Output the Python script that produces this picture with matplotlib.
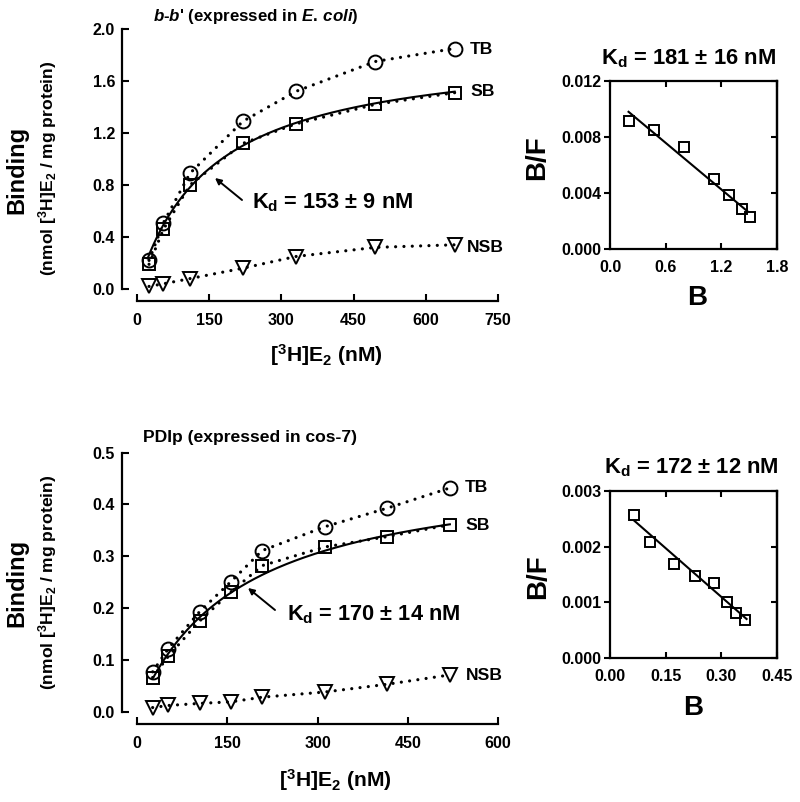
import numpy as np
import matplotlib
matplotlib.use("Agg")
import matplotlib.pyplot as plt

plt.rcParams['font.family'] = ['Liberation Sans', 'DejaVu Sans']
plt.rcParams['font.weight'] = 'bold'
plt.rcParams['mathtext.fontset'] = 'custom'
plt.rcParams['mathtext.rm'] = 'Liberation Sans:bold'
plt.rcParams['mathtext.bf'] = 'Liberation Sans:bold'
plt.rcParams['mathtext.it'] = 'Liberation Sans:italic:bold'
plt.rcParams['mathtext.default'] = 'rm'

# ---------------- data ----------------
# top saturation (b-b')
top_x = [25, 55, 110, 220, 330, 495, 660]
top_tb = [0.22, 0.51, 0.89, 1.29, 1.52, 1.75, 1.85]
top_sb = [0.19, 0.46, 0.80, 1.12, 1.27, 1.42, 1.51]
top_nsb = [0.02, 0.04, 0.08, 0.16, 0.25, 0.32, 0.34]
top_kd, top_bmax = 153, 1.87
top_fit_range = (22, 660)

# bottom saturation (PDIp)
bot_x = [26, 52, 104, 156, 208, 312, 416, 520]
bot_tb = [0.077, 0.122, 0.193, 0.251, 0.311, 0.357, 0.393, 0.432]
bot_sb = [0.066, 0.107, 0.175, 0.231, 0.282, 0.318, 0.338, 0.361]
bot_nsb = [0.008, 0.012, 0.016, 0.019, 0.028, 0.038, 0.053, 0.071]
bot_kd, bot_bmax = 170, 0.48
bot_fit_range = (28, 520)

# Scatchard top
sc1_b = [0.20, 0.47, 0.80, 1.12, 1.28, 1.42, 1.51]
sc1_bf = [0.0091, 0.0085, 0.0073, 0.0050, 0.0039, 0.0029, 0.0023]
sc1_kd, sc1_icpt = 181, 0.01089
sc1_fit_range = (0.20, 1.48)

# Scatchard bottom
sc2_b = [0.066, 0.108, 0.173, 0.230, 0.281, 0.316, 0.339, 0.363]
sc2_bf = [0.00257, 0.00208, 0.00168, 0.00147, 0.00135, 0.00101, 0.00081, 0.00069]
sc2_kd, sc2_icpt = 172, 0.002843
sc2_fit_range = (0.065, 0.368)

top_xticks = [0, 150, 300, 450, 600, 750]
top_yticks = [0.0, 0.4, 0.8, 1.2, 1.6, 2.0]
bot_xticks = [0, 150, 300, 450, 600]
bot_yticks = [0.0, 0.1, 0.2, 0.3, 0.4, 0.5]
sc1_xticks = [0.0, 0.6, 1.2, 1.8]
sc1_yticks = [0.000, 0.004, 0.008, 0.012]
sc2_xticks = [0.00, 0.15, 0.30, 0.45]
sc2_yticks = [0.000, 0.001, 0.002, 0.003]

W, H = 800, 802
fig = plt.figure(figsize=(W / 100, H / 100), dpi=100)


def fx(px):
    return px / W


def fy(py):
    return 1 - py / H


def add_ax(l, r, t, b):
    return fig.add_axes([fx(l), fy(b), fx(r) - fx(l), fy(t) - fy(b)])


DOT = dict(ls=(0, (0.01, 2.6)), lw=2.3, dash_capstyle='round', color='black')
MK = dict(mfc='none', mec='black', mew=1.4)
TICK_FS = 11.5


def sat_panel(ax, x, tb, sb, nsb, kd, bmax, fr, xt, yt, yfmt):
    ax.set_xlim(xt[0], xt[-1])
    ax.set_ylim(yt[0], yt[-1])
    for s in ('top', 'right'):
        ax.spines[s].set_visible(False)
    for s in ('left', 'bottom'):
        ax.spines[s].set_linewidth(1.6)
    ax.spines['left'].set_position(('outward', 10.8))
    ax.spines['bottom'].set_position(('outward', 8.6))
    ax.set_xticks(xt)
    ax.set_yticks(yt)
    ax.set_yticklabels([yfmt % v for v in yt])
    ax.tick_params(direction='in', length=5, width=1.5, labelsize=TICK_FS)
    ax.tick_params(axis='y', pad=5)
    ax.tick_params(axis='x', pad=9)
    ax.plot(x, tb, marker='o', ms=10, **MK, **DOT, clip_on=False)
    ax.plot(x, sb, marker='s', ms=9, **MK, **DOT, clip_on=False)
    ax.plot(x, nsb, marker='v', ms=9.6, **MK, **DOT, clip_on=False)
    xf = np.linspace(fr[0], fr[1], 200)
    ax.plot(xf, bmax * xf / (kd + xf), color='black', lw=1.5, clip_on=False)


def scat_panel(ax, b, bf, kd, icpt, fr, xt, yt, xfmt, yfmt):
    ax.set_xlim(xt[0], xt[-1])
    ax.set_ylim(yt[0], yt[-1])
    for s in ax.spines.values():
        s.set_linewidth(1.6)
    ax.set_xticks(xt)
    ax.set_xticklabels([xfmt % v for v in xt])
    ax.set_yticks(yt)
    ax.set_yticklabels([yfmt % v for v in yt])
    ax.tick_params(axis='x', direction='in', top=True, length=4.5, width=1.5,
                   pad=8, labelsize=TICK_FS)
    ax.tick_params(axis='y', direction='out', length=4.5, width=1.5,
                   pad=1.5, labelsize=TICK_FS)
    sec = ax.secondary_yaxis('right')
    sec.set_yticks(yt)
    sec.tick_params(direction='in', length=4.5, width=1.5, labelright=False)
    sec.spines['right'].set_linewidth(1.6)
    ax.plot(b, bf, ls='none', marker='s', ms=7.6, **MK)
    xf = np.array(fr)
    ax.plot(xf, icpt - xf / kd, color='black', lw=1.5)


ax1 = add_ax(137, 498, 29, 289)
sat_panel(ax1, top_x, top_tb, top_sb, top_nsb, top_kd, top_bmax, top_fit_range,
          top_xticks, top_yticks, '%.1f')
ax2 = add_ax(137, 498, 452.7, 711.7)
sat_panel(ax2, bot_x, bot_tb, bot_sb, bot_nsb, bot_kd, bot_bmax, bot_fit_range,
          bot_xticks, bot_yticks, '%.1f')
ax3 = add_ax(610, 777, 80.7, 249.3)
scat_panel(ax3, sc1_b, sc1_bf, sc1_kd, sc1_icpt, sc1_fit_range,
           sc1_xticks, sc1_yticks, '%.1f', '%.3f')
ax4 = add_ax(610, 777, 490.7, 658.3)
scat_panel(ax4, sc2_b, sc2_bf, sc2_kd, sc2_icpt, sc2_fit_range,
           sc2_xticks, sc2_yticks, '%.2f', '%.3f')


def ftext(px, py, s, **kw):
    fig.text(fx(px), fy(py), s, **kw)


# titles
ftext(153, 17, r"$\mathit{b}$-$\mathit{b}$' (expressed in $\mathit{E.\,coli}$)",
      fontsize=12.2, ha='left', va='center')
ftext(143, 438, "PDIp (expressed in cos-7)", fontsize=12.6, ha='left', va='center')

# y labels of saturation panels
for yc1, yc2 in ((170, 168), (583, 582)):
    ftext(17, yc1, "Binding", fontsize=17, rotation=90, ha='center', va='center')
    ftext(48, yc2, r"(nmol [$^{3}$H]E$_{2}$ / mg protein)", fontsize=12.6,
          rotation=90, ha='center', va='center')

# x labels of saturation panels
for xc, yb in ((326, 362), (335, 787)):
    ftext(xc, yb, r"[$^{3}$H]E$_{2}$ (nM)", fontsize=15.2, ha='center', va='baseline')

# series labels
for xl, yc, s in ((470, 49, 'TB'), (470, 92, 'SB'), (467, 247, 'NSB'),
                  (465, 487, 'TB'), (465, 525, 'SB'), (466, 675, 'NSB')):
    ftext(xl, yc, s, fontsize=12.6, ha='left', va='center')

# Kd annotations + arrows
for xl, yb, s, head, tail in ((252, 208, r"K$_{\rm d}$ = 153 ± 9 nM", (215, 178), (242, 200)),
                              (287, 620, r"K$_{\rm d}$ = 170 ± 14 nM", (248, 588), (275, 610))):
    ftext(xl, yb, s, fontsize=15.7, ha='left', va='baseline')
    fig.add_artist(matplotlib.patches.FancyArrowPatch(
        (fx(tail[0]), fy(tail[1])), (fx(head[0]), fy(head[1])),
        transform=fig.transFigure, arrowstyle='-|>', mutation_scale=9,
        lw=1.4, color='black', shrinkA=0, shrinkB=0))

# Scatchard titles and labels
ftext(689, 64, r"K$_{\rm d}$ = 181 ± 16 nM", fontsize=15.8, ha='center', va='baseline')
ftext(691, 473, r"K$_{\rm d}$ = 172 ± 12 nM", fontsize=15.8, ha='center', va='baseline')
for (xc, yc) in ((537, 158), (538, 577)):
    ftext(xc, yc, "B/F", fontsize=20, rotation=90, ha='center', va='center')
for (xc, yc) in ((697, 298), (693, 708)):
    ftext(xc, yc, "B", fontsize=20, ha='center', va='center')

fig.savefig("out.png", dpi=100)
